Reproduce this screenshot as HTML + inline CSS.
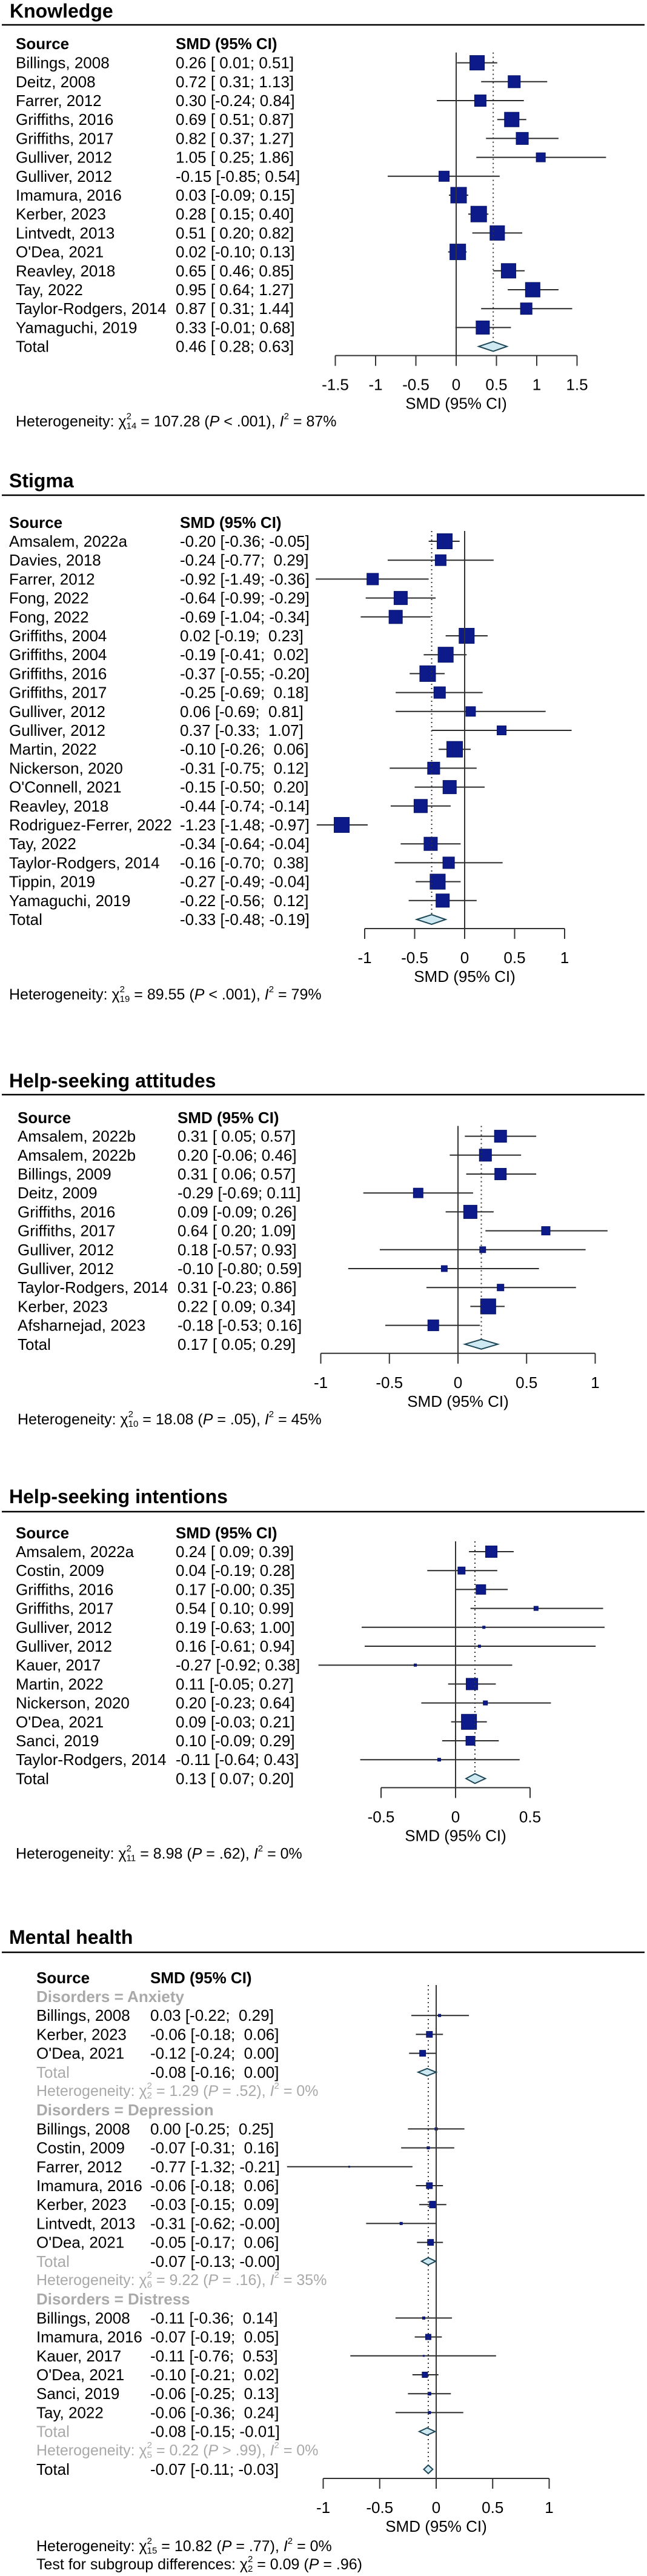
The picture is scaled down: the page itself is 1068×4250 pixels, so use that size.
<!DOCTYPE html>
<html><head><meta charset="utf-8"><title>Forest plots</title>
<style>
html,body{margin:0;padding:0;background:#fff;}
svg{display:block;}
text{font-family:"Liberation Sans",Arial,sans-serif;white-space:pre;}
</style></head>
<body>
<svg id="fig" xmlns="http://www.w3.org/2000/svg" width="1068" height="4250" viewBox="0 0 1068 4250">
<rect x="0" y="0" width="1068" height="4250" fill="#fff"/>
</svg>
<script>
// ---------- Knowledge ----------
const knowNames=["Billings, 2008","Deitz, 2008","Farrer, 2012","Griffiths, 2016","Griffiths, 2017","Gulliver, 2012","Gulliver, 2012","Imamura, 2016","Kerber, 2023","Lintvedt, 2013","O'Dea, 2021","Reavley, 2018","Tay, 2022","Taylor-Rodgers, 2014","Yamaguchi, 2019"];
const knowEst=[0.26,0.72,0.30,0.69,0.82,1.05,-0.15,0.03,0.28,0.51,0.02,0.65,0.95,0.87,0.33];
const knowLo=[0.01,0.31,-0.24,0.51,0.37,0.25,-0.85,-0.09,0.15,0.20,-0.10,0.46,0.64,0.31,-0.01];
const knowHi=[0.51,1.13,0.84,0.87,1.27,1.86,0.54,0.15,0.40,0.82,0.13,0.85,1.27,1.44,0.68];
const knowWeight=[11.8,8.2,7.4,11.8,8.2,4.6,5.9,13.8,13.8,11.8,13.8,11.8,11.8,7.4,9.9];
const knowTotal=[0.46,0.28,0.63];
const knowTicks=[-1.5,-1,-0.5,0,0.5,1,1.5];
const knowHet=["14","107.28","< .001","87"];

// ---------- Stigma ----------
const stigNames=["Amsalem, 2022a","Davies, 2018","Farrer, 2012","Fong, 2022","Fong, 2022","Griffiths, 2004","Griffiths, 2004","Griffiths, 2016","Griffiths, 2017","Gulliver, 2012","Gulliver, 2012","Martin, 2022","Nickerson, 2020","O'Connell, 2021","Reavley, 2018","Rodriguez-Ferrer, 2022","Tay, 2022","Taylor-Rodgers, 2014","Tippin, 2019","Yamaguchi, 2019"];
const stigEst=[-0.20,-0.24,-0.92,-0.64,-0.69,0.02,-0.19,-0.37,-0.25,0.06,0.37,-0.10,-0.31,-0.15,-0.44,-1.23,-0.34,-0.16,-0.27,-0.22];
const stigLo=[-0.36,-0.77,-1.49,-0.99,-1.04,-0.19,-0.41,-0.55,-0.69,-0.69,-0.33,-0.26,-0.75,-0.50,-0.74,-1.48,-0.64,-0.70,-0.49,-0.56];
const stigHi=[-0.05,0.29,-0.36,-0.29,-0.34,0.23,0.02,-0.20,0.18,0.81,1.07,0.06,0.12,0.20,-0.14,-0.97,-0.04,0.38,-0.04,0.12];
const stigWeight=[12.8,6.6,7.4,9.9,9.9,12.8,12.8,13.8,7.4,5.2,4.6,13.8,8.2,9.9,9.9,12.8,9.9,7.4,12.8,9.9];
const stigTotal=[-0.33,-0.48,-0.19];
const stigTicks=[-1,-0.5,0,0.5,1];
const stigHet=["19","89.55","< .001","79"];

// ---------- Help-seeking attitudes ----------
const attNames=["Amsalem, 2022b","Amsalem, 2022b","Billings, 2009","Deitz, 2009","Griffiths, 2016","Griffiths, 2017","Gulliver, 2012","Gulliver, 2012","Taylor-Rodgers, 2014","Kerber, 2023","Afsharnejad, 2023"];
const attEst=[0.31,0.20,0.31,-0.29,0.09,0.64,0.18,-0.10,0.31,0.22,-0.18];
const attLo=[0.05,-0.06,0.06,-0.69,-0.09,0.20,-0.57,-0.80,-0.23,0.09,-0.53];
const attHi=[0.57,0.46,0.57,0.11,0.26,1.09,0.93,0.59,0.86,0.34,0.16];
const attWeight=[8.2,8.2,7.4,5.2,9.9,4.0,2.0,2.0,2.5,12.8,6.6];
const attTotal=[0.17,0.05,0.29];
const attTicks=[-1,-0.5,0,0.5,1];
const attHet=["10","18.08","= .05","45"];

// ---------- Help-seeking intentions ----------
const intNames=["Amsalem, 2022a","Costin, 2009","Griffiths, 2016","Griffiths, 2017","Gulliver, 2012","Gulliver, 2012","Kauer, 2017","Martin, 2022","Nickerson, 2020","O'Dea, 2021","Sanci, 2019","Taylor-Rodgers, 2014"];
const intEst=[0.24,0.04,0.17,0.54,0.19,0.16,-0.27,0.11,0.20,0.09,0.10,-0.11];
const intLo=[0.09,-0.19,-0.004,0.10,-0.63,-0.61,-0.92,-0.05,-0.23,-0.03,-0.09,-0.64];
const intHi=[0.39,0.28,0.35,0.99,1.00,0.94,0.38,0.27,0.64,0.21,0.29,0.43];
const intWeight=[7.4,2.9,5.2,1.0,0.33,0.33,0.33,7.4,1.0,12.8,4.6,0.5];
const intTotal=[0.13,0.07,0.20];
const intTicks=[-0.5,0,0.5];
const intHet=["11","8.98","= .62","0"];

// ---------- Mental health ----------
const mhAnxNames=["Billings, 2008","Kerber, 2023","O'Dea, 2021"];
const mhAnxEst=[0.03,-0.06,-0.12];
const mhAnxLo=[-0.22,-0.18,-0.24];
const mhAnxHi=[0.29,0.06,0.00];
const mhAnxWeight=[0.33,2.0,2.0];
const mhAnxTotal=[-0.08,-0.16,0.00];
const mhAnxHet=["2","1.29","= .52","0"];

const mhDepNames=["Billings, 2008","Costin, 2009","Farrer, 2012","Imamura, 2016","Kerber, 2023","Lintvedt, 2013","O'Dea, 2021"];
const mhDepEst=[0.00,-0.07,-0.77,-0.06,-0.03,-0.31,-0.05];
const mhDepLo=[-0.25,-0.31,-1.32,-0.18,-0.15,-0.62,-0.17];
const mhDepHi=[0.25,0.16,-0.21,0.06,0.09,-0.004,0.06];
const mhDepWeight=[0.33,0.33,0.08,2.0,2.5,0.33,2.0];
const mhDepTotal=[-0.07,-0.13,-0.004];
const mhDepHet=["6","9.22","= .16","35"];

const mhDisNames=["Billings, 2008","Imamura, 2016","Kauer, 2017","O'Dea, 2021","Sanci, 2019","Tay, 2022"];
const mhDisEst=[-0.11,-0.07,-0.11,-0.10,-0.06,-0.06];
const mhDisLo=[-0.36,-0.19,-0.76,-0.21,-0.25,-0.36];
const mhDisHi=[0.14,0.05,0.53,0.02,0.13,0.24];
const mhDisWeight=[0.33,1.65,0.08,1.65,0.5,0.33];
const mhDisTotal=[-0.08,-0.15,-0.01];
const mhDisHet=["5","0.22","> .99","0"];

const mhTotal=[-0.07,-0.11,-0.03];
const mhTicks=[-1,-0.5,0,0.5,1];
const mhHet=["15","10.82","= .77","0"];
const mhTest=["2","0.09","= .96"];

// ================= drawing =================
const NS="http://www.w3.org/2000/svg";
const svg=document.getElementById("fig");
const GRAY="#a9a9a9";
const SQ="#0c1a8a";

function mk(tag,attrs,parent){
  const e=document.createElementNS(NS,tag);
  for(const k in attrs) e.setAttribute(k,attrs[k]);
  (parent||svg).appendChild(e);
  return e;
}
function txt(g,x,y,s,size,opts){
  opts=opts||{};
  const t=mk("text",{x:x,y:y,"font-size":size,"dominant-baseline":"central",fill:opts.fill||"#000","font-weight":opts.bold?"bold":"normal","text-anchor":opts.anchor||"start"},g);
  t.textContent=s;
  return t;
}
function f2(v){return v.toFixed(2);}
function ciLabel(e,l,h,padHi){
  const lo=(l>=0?" ":"")+f2(l);
  const hi=(padHi&&h>=0?" ":"")+f2(h);
  return f2(e)+" ["+lo+"; "+hi+"]";
}
function hetText(g,x,y,size,color,prefix,het){
  const t=mk("text",{x:x,y:y,"font-size":size,"dominant-baseline":"central",fill:color},g);
  const small=size*0.6;
  const parts=[
    [prefix+"χ",{}],
    ["2",{"font-size":small,dy:-9}],
    [het[0],{"font-size":small,dx:-(small*0.556),dy:16}],
    [" = "+het[1]+" (",{dy:-7}],
    ["P",{"font-style":"italic"}],
    [" "+het[2]+")"+(het.length>3?", ":""),{}]
  ];
  if(het.length>3){
    parts.push(["I",{"font-style":"italic"}]);
    parts.push(["2",{"font-size":small,dy:-9}]);
    parts.push([" = "+het[3]+"%",{dy:9}]);
  }
  parts.forEach(p=>{const s=mk("tspan",p[1],t);s.textContent=p[0];});
  return t;
}
function drawTitle(L,title){
  const g=mk("g",{});
  
  
  const t=txt(g,L.titleX,L.titleY,title,32,{bold:true});
  
  
  const r=mk("line",{x1:3,x2:1064,y1:L.ruleY,y2:L.ruleY,stroke:"#000","stroke-width":2.5},g);
  
  
  const h1=txt(g,L.srcX,L.headerY,"Source",26,{bold:true});
  
  
  const h2=txt(g,L.smdX,L.headerY,"SMD (95% CI)",26,{bold:true});
  
  
  return g;
}
function drawStudy(g,L,xs,y,name,e,l,h,w,padHi){
  const n=txt(g,L.srcX,y,name,26);
  
  
  const c=txt(g,L.smdX,y,ciLabel(e,l,h,padHi),26);
  
  
  const ln=mk("line",{x1:xs(l),x2:xs(h),y1:y,y2:y,stroke:"#2a2a2a","stroke-width":2},g);
  
  
  const s=Math.max(2,7*Math.sqrt(w));
  const sq=mk("rect",{x:xs(e)-s/2,y:y-s/2,width:s,height:s,fill:SQ,stroke:"#081466","stroke-width":1},g);
  
  
}
function drawDiamond(g,xs,y,tot,hh){
  const p=[[xs(tot[1]),y],[xs(tot[0]),y-hh],[xs(tot[2]),y],[xs(tot[0]),y+hh]].map(a=>a.join(",")).join(" ");
  const d=mk("polygon",{points:p,fill:"#cfe9f3",stroke:"#1d4656","stroke-width":2},g);
  
  
}
function drawAxis(g,L,xs,ticks,yTop,yTotal,totEst){
  const ax=yTotal+15;
  const z=mk("line",{x1:xs(0),x2:xs(0),y1:yTop,y2:ax,stroke:"#333","stroke-width":2},g);
  
  
  const d=mk("line",{x1:xs(totEst),x2:xs(totEst),y1:yTop,y2:yTotal-8,stroke:"#333","stroke-width":2,"stroke-dasharray":"2,5"},g);
  
  
  const a=mk("line",{x1:xs(ticks[0]),x2:xs(ticks[ticks.length-1]),y1:ax,y2:ax,stroke:"#333","stroke-width":2},g);
  
  
  ticks.forEach(t=>{
    const tk=mk("line",{x1:xs(t),x2:xs(t),y1:ax,y2:ax+17,stroke:"#333","stroke-width":2},g);
    
    
    const lb=txt(g,xs(t),yTotal+63,String(t),26,{anchor:"middle"});
    
    
  });
  const tl=txt(g,xs(0),yTotal+94,"SMD (95% CI)",26,{anchor:"middle"});
  
  
}
function simpleSection(title,L,names,est,lo,hi,wt,tot,ticks,het){
  const g=drawTitle(L,title);
  const xs=v=>L.zeroX+v*L.ppu;
  const padHi=hi.some(v=>v<0);
  names.forEach((n,i)=>drawStudy(g,L,xs,L.row0+i*L.pitch,n,est[i],lo[i],hi[i],wt[i],padHi));
  const yT=L.row0+names.length*L.pitch;
  const tn=txt(g,L.srcX,yT,"Total",26);
  
  
  const tc=txt(g,L.smdX,yT,ciLabel(tot[0],tot[1],tot[2],padHi),26);
  
  
  drawAxis(g,L,xs,ticks,L.row0-17,yT,tot[0]);
  drawDiamond(g,xs,yT,tot,8);
  const h=hetText(g,L.srcX,yT+124,25,"#000","Heterogeneity: ",het);
  
  
}

simpleSection("Knowledge",{titleX:16,titleY:18,ruleY:41,headerY:72,row0:103.6,pitch:31.2,srcX:26,smdX:290,zeroX:753,ppu:133},
  knowNames,knowEst,knowLo,knowHi,knowWeight,knowTotal,knowTicks,knowHet);
simpleSection("Stigma",{titleX:15,titleY:793,ruleY:817,headerY:862,row0:893,pitch:31.2,srcX:15,smdX:297,zeroX:767,ppu:165},
  stigNames,stigEst,stigLo,stigHi,stigWeight,stigTotal,stigTicks,stigHet);
simpleSection("Help-seeking attitudes",{titleX:15,titleY:1783,ruleY:1806,headerY:1844,row0:1874.6,pitch:31.2,srcX:29,smdX:293,zeroX:756,ppu:226.5},
  attNames,attEst,attLo,attHi,attWeight,attTotal,attTicks,attHet);
simpleSection("Help-seeking intentions",{titleX:15,titleY:2469,ruleY:2494,headerY:2529,row0:2560,pitch:31.2,srcX:26,smdX:290,zeroX:752,ppu:246},
  intNames,intEst,intLo,intHi,intWeight,intTotal,intTicks,intHet);

// Mental health (subgroups)
(function(){
  const L={titleX:15,titleY:3196,ruleY:3221,headerY:3263,row0:3294,pitch:31.2,srcX:60,smdX:248,zeroX:720,ppu:186.5};
  const g=drawTitle(L,"Mental health");
  const xs=v=>L.zeroX+v*L.ppu;
  const groups=[
    ["Anxiety",mhAnxNames,mhAnxEst,mhAnxLo,mhAnxHi,mhAnxWeight,mhAnxTotal,mhAnxHet],
    ["Depression",mhDepNames,mhDepEst,mhDepLo,mhDepHi,mhDepWeight,mhDepTotal,mhDepHet],
    ["Distress",mhDisNames,mhDisEst,mhDisLo,mhDisHi,mhDisWeight,mhDisTotal,mhDisHet]
  ];
  let r=0;
  const Y=()=>L.row0+r*L.pitch;
  const diamonds=[];
  groups.forEach(gr=>{
    const hd=txt(g,L.srcX,Y(),"Disorders = "+gr[0],26,{bold:true,fill:GRAY});
    
    
    r++;
    gr[1].forEach((n,i)=>{drawStudy(g,L,xs,Y(),n,gr[2][i],gr[3][i],gr[4][i],gr[5][i],true);r++;});
    const st=txt(g,L.srcX,Y(),"Total",26,{fill:GRAY});
    
    
    const sc=txt(g,L.smdX,Y(),ciLabel(gr[6][0],gr[6][1],gr[6][2],true),26);
    
    
    diamonds.push([Y(),gr[6],6]);
    r++;
    const hh=hetText(g,L.srcX,Y(),25,GRAY,"Heterogeneity: ",gr[7]);
    
    
    r++;
  });
  r--; // overall total follows directly after last subgroup het line
  r++;
  const yT=Y();
  const tn=txt(g,L.srcX,yT,"Total",26);
  
  
  const tc=txt(g,L.smdX,yT,ciLabel(mhTotal[0],mhTotal[1],mhTotal[2],true),26);
  
  
  drawAxis(g,L,xs,mhTicks,L.row0-19,yT,mhTotal[0]);
  diamonds.forEach(d=>drawDiamond(g,xs,d[0],d[1],d[2]));
  drawDiamond(g,xs,yT,mhTotal,7);
  const h=hetText(g,L.srcX,yT+127,25,"#000","Heterogeneity: ",mhHet);
  
  
  const t=hetText(g,L.srcX,yT+157,25,"#000","Test for subgroup differences: ",mhTest);
  
  
})();
</script>
</body></html>
